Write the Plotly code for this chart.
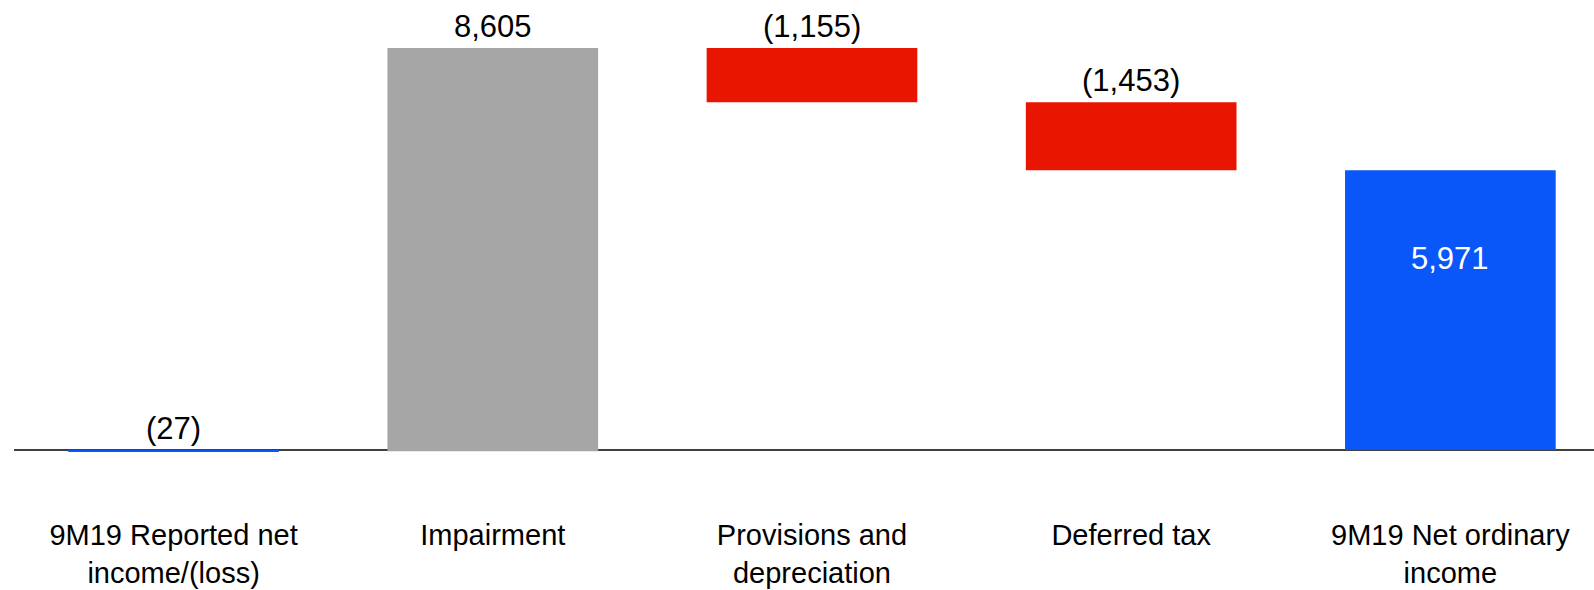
import numpy as np
import plotly.graph_objects as go

# Bridge from reported to ordinary net income
categories = [
    "9M19 Reported net<br>income/(loss)",
    "Impairment",
    "Provisions and<br>depreciation",
    "Deferred tax",
    "9M19 Net ordinary<br>income",
]
values = [-27, 8605, -1155, -1453, 5971]
kinds = ["total", "delta", "delta", "delta", "total"]

BLUE = "#0A57F9"
GREY = "#A6A6A6"
RED = "#E81500"
FONT = "Liberation Sans, Arial, sans-serif"
FS = 31
FS_CAT = 29

# floating bars: totals start at zero, deltas start at the running level
bases, heights, colors = [], [], []
running = 0.0
for v, k in zip(values, kinds):
    if k == "total":
        bases.append(0.0)
        running = v
        colors.append(BLUE)
    else:
        bases.append(running)
        running += v
        colors.append(GREY if v > 0 else RED)
    heights.append(v)
bases = np.array(bases)
heights = np.array(heights)
tops = np.maximum(bases, bases + heights)


def fmt(v):
    s = f"{abs(v):,.0f}"
    return f"({s})" if v < 0 else s


fig = go.Figure(
    go.Bar(
        x=list(range(len(categories))),
        y=heights,
        base=bases,
        width=0.66,
        marker=dict(color=colors, line=dict(width=0)),
        hoverinfo="skip",
    )
)

for i, (v, k, top) in enumerate(zip(values, kinds, tops)):
    inside = k == "total" and v > 0
    fig.add_annotation(
        x=i,
        y=top,
        text=fmt(v),
        showarrow=False,
        xanchor="center",
        yanchor="middle",
        yshift=-88 if inside else 22,
        font=dict(family=FONT, size=FS, color="white" if inside else "black"),
    )

px_per_unit = 0.04686
fig.update_layout(
    width=1594,
    height=590,
    margin=dict(l=14, r=0, t=0, b=95),
    paper_bgcolor="white",
    plot_bgcolor="white",
    showlegend=False,
    font=dict(family=FONT, size=FS, color="black"),
    xaxis=dict(
        range=[-0.5, 4.45],
        tickmode="array",
        tickvals=list(range(len(categories))),
        ticktext=categories,
        showgrid=False,
        zeroline=False,
        showline=False,
        ticks="",
        ticklabelstandoff=20,
        automargin=False,
        tickfont=dict(family=FONT, size=FS_CAT, color="black"),
        fixedrange=True,
    ),
    yaxis=dict(
        range=[-45 / px_per_unit, 450 / px_per_unit],
        showgrid=False,
        showticklabels=False,
        zeroline=True,
        zerolinecolor="#404040",
        zerolinewidth=1.5,
        showline=False,
        ticks="",
        automargin=False,
        fixedrange=True,
    ),
)

fig.write_html("out.html")
